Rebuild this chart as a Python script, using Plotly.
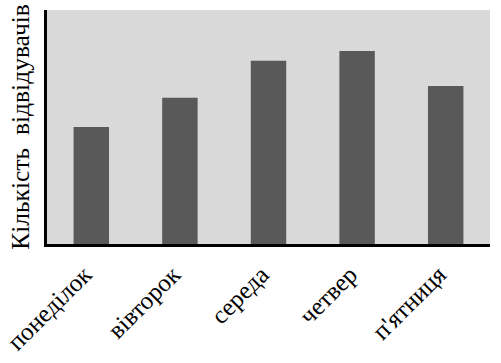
import plotly.graph_objects as go

days = ["понеділок", "вівторок", "середа", "четвер", "п'ятниця"]
visitors = [60, 75, 94, 99, 81]
y_title = "Кількість  відвідувачів"

fig = go.Figure(go.Bar(x=days, y=visitors, marker_color="#595959", marker_line_width=0))
fig.update_layout(
    width=501, height=363,
    margin=dict(l=47, r=11, t=10, b=119),
    paper_bgcolor="white", plot_bgcolor="#d9d9d9",
    bargap=0.6, showlegend=False,
    font=dict(family="Liberation Serif", color="black"),
)
fig.update_xaxes(
    automargin=False,
    showline=True, linecolor="black", linewidth=3,
    tickangle=-45, tickfont=dict(size=25, family="Liberation Serif", color="black"),
    ticks="outside", ticklen=3, tickcolor="rgba(0,0,0,0)",
    ticklabelshift=-7,
    showgrid=False,
)
fig.update_yaxes(
    automargin=False,
    range=[0, 120], showline=True, linecolor="black", linewidth=3,
    showticklabels=False, showgrid=False, zeroline=False,
    title=dict(text=y_title, font=dict(size=25.5, family="Liberation Serif", color="black"), standoff=8),
)
fig.write_html("out.html")
